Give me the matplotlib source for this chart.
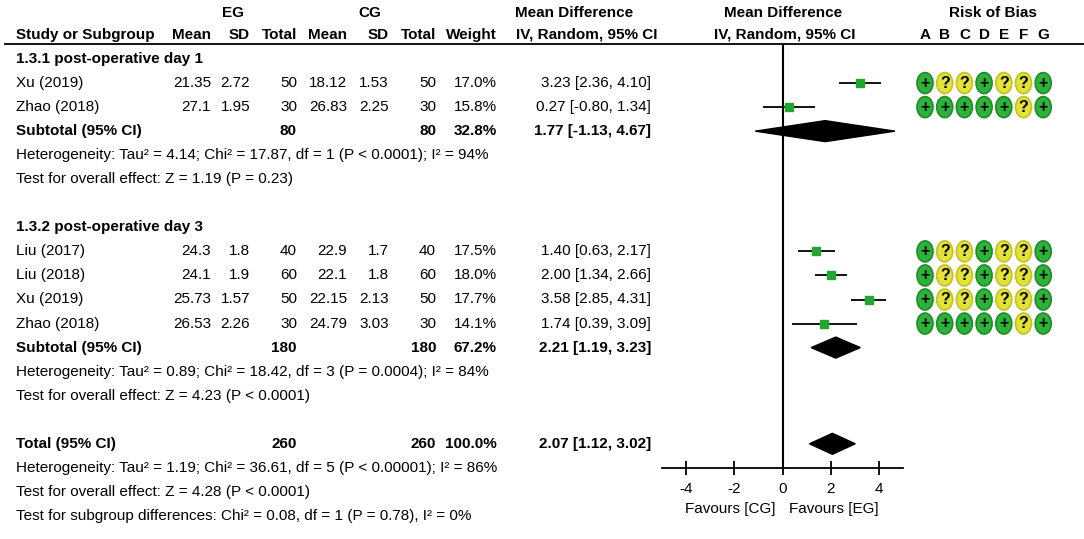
import matplotlib
matplotlib.use('Agg')
import matplotlib.pyplot as plt
from matplotlib.patches import Polygon, Ellipse

plt.rcParams['font.family'] = ['Liberation Sans', 'DejaVu Sans']
FS = 11

# DATA
studies = ["Xu (2019)", "Zhao (2018)", "Liu (2017)", "Liu (2018)", "Xu (2019)", "Zhao (2018)"]
study_rows = [1, 2, 8, 9, 10, 11]
eg_mean = [21.35, 27.1, 24.3, 24.1, 25.73, 26.53]
eg_sd = [2.72, 1.95, 1.8, 1.9, 1.57, 2.26]
eg_total = [50, 30, 40, 60, 50, 30]
cg_mean = [18.12, 26.83, 22.9, 22.1, 22.15, 24.79]
cg_sd = [1.53, 2.25, 1.7, 1.8, 2.13, 3.03]
cg_total = [50, 30, 40, 60, 50, 30]
weight = [17.0, 15.8, 17.5, 18.0, 17.7, 14.1]
md = [3.23, 0.27, 1.40, 2.00, 3.58, 1.74]
md_lo = [2.36, -0.80, 0.63, 1.34, 2.85, 0.39]
md_hi = [4.10, 1.34, 2.17, 2.66, 4.31, 3.09]
rob = ["+??+??+", "+++++?+", "+??+??+", "+??+??+", "+??+??+", "+++++?+"]

groups = ["1.3.1 post-operative day 1", "1.3.2 post-operative day 3"]
group_rows = [0, 7]

pooled_labels = ["Subtotal (95% CI)", "Subtotal (95% CI)", "Total (95% CI)"]
pooled_rows = [3, 12, 16]
pooled_eg = [80, 180, 260]
pooled_cg = [80, 180, 260]
pooled_weight = [32.8, 67.2, 100.0]
pooled_md = [1.77, 2.21, 2.07]
pooled_lo = [-1.13, 1.19, 1.12]
pooled_hi = [4.67, 3.23, 3.02]

notes = [
    "Heterogeneity: Tau\u00b2 = 4.14; Chi\u00b2 = 17.87, df = 1 (P < 0.0001); I\u00b2 = 94%",
    "Test for overall effect: Z = 1.19 (P = 0.23)",
    "Heterogeneity: Tau\u00b2 = 0.89; Chi\u00b2 = 18.42, df = 3 (P = 0.0004); I\u00b2 = 84%",
    "Test for overall effect: Z = 4.23 (P < 0.0001)",
    "Heterogeneity: Tau\u00b2 = 1.19; Chi\u00b2 = 36.61, df = 5 (P < 0.00001); I\u00b2 = 86%",
    "Test for overall effect: Z = 4.28 (P < 0.0001)",
    "Test for subgroup differences: Chi\u00b2 = 0.08, df = 1 (P = 0.78), I\u00b2 = 0%",
]
note_rows = [4, 5, 13, 14, 17, 18, 19]

xticks = [-4, -2, 0, 2, 4]
rob_letters = ["A", "B", "C", "D", "E", "F", "G"]

# LAYOUT (pixels)
W, H = 1084, 539
Y0, DY = 59.0, 24.05
LINE_Y = 44
AXIS_Y = 468


def row(p):
    return (p - Y0) / DY


fig = plt.figure(figsize=(W / 100, H / 100), dpi=100)
ax = fig.add_axes([0, 0, 1, 1])
ax.set_xlim(0, W)
ax.set_ylim(row(H), row(0))
ax.axis('off')

# column right edges
cols = [211, 250, 297, 347, 389, 436, 497, 651]

# HEADERS
hdr1 = row(13)
hdr2 = row(35)
bold = dict(fontsize=FS, fontweight='bold', va='center')
ax.text(233, hdr1, "EG", ha='center', **bold)
ax.text(370, hdr1, "CG", ha='center', **bold)
ax.text(574, hdr1, "Mean Difference", ha='center', **bold)
ax.text(783, hdr1, "Mean Difference", ha='center', **bold)
ax.text(993, hdr1, "Risk of Bias", ha='center', **bold)
ax.text(16, hdr2, "Study or Subgroup", ha='left', **bold)
for x, s in zip(cols, ["Mean", "SD", "Total", "Mean", "SD", "Total", "Weight"]):
    ax.text(x, hdr2, s, ha='right', **bold)
ax.text(516, hdr2, "IV, Random, 95% CI", ha='left', **bold)
ax.text(785, hdr2, "IV, Random, 95% CI", ha='center', **bold)
for i, s in enumerate(rob_letters):
    ax.text(925 + 19.7 * i, hdr2, s, ha='center', **bold)
ax.plot([5, W], [row(LINE_Y), row(LINE_Y)], color='black', lw=1.3)

# TABLE
norm = dict(fontsize=FS, va='center')
for g, r in zip(groups, group_rows):
    ax.text(16, r, g, ha='left', **bold)
for i, r in enumerate(study_rows):
    ax.text(16, r, studies[i], ha='left', **norm)
    vals = [str(eg_mean[i]), str(eg_sd[i]), str(eg_total[i]),
            str(cg_mean[i]), str(cg_sd[i]), str(cg_total[i]),
            f"{weight[i]:.1f}%",
            f"{md[i]:.2f} [{md_lo[i]:.2f}, {md_hi[i]:.2f}]"]
    for x, s in zip(cols, vals):
        ax.text(x, r, s, ha='right', **norm)
    for j, c in enumerate(rob[i]):
        xc = 925 + 19.7 * j
        if c == '+':
            fc, ec = '#2eb33a', '#1e8a28'
        else:
            fc, ec = '#e2e238', '#c2c224'
        ax.add_patch(Ellipse((xc, r), 16, 21 / DY, facecolor=fc, edgecolor=ec, lw=1.2))
        ax.text(xc, r, c, ha='center', va='center', fontsize=11.5, fontweight='bold')
for i, r in enumerate(pooled_rows):
    ax.text(16, r, pooled_labels[i], ha='left', **bold)
    ax.text(cols[2], r, str(pooled_eg[i]), ha='right', **bold)
    ax.text(cols[5], r, str(pooled_cg[i]), ha='right', **bold)
    ax.text(cols[6], r, f"{pooled_weight[i]:.1f}%", ha='right', **bold)
    ax.text(cols[7], r, f"{pooled_md[i]:.2f} [{pooled_lo[i]:.2f}, {pooled_hi[i]:.2f}]",
            ha='right', **bold)
for s, r in zip(notes, note_rows):
    ax.text(16, r, s, ha='left', **norm)

# FOREST PLOT
fax = fig.add_axes([662 / W, (H - AXIS_Y) / H, 241 / W, (AXIS_Y - LINE_Y) / H])
fax.set_xlim(-5, 5)
fax.set_ylim(row(AXIS_Y), row(LINE_Y))
fax.patch.set_alpha(0)
for sp in ['left', 'right', 'top']:
    fax.spines[sp].set_visible(False)
fax.spines['bottom'].set_linewidth(1.3)
fax.set_yticks([])
fax.set_xticks(xticks)
fax.set_xticklabels([str(t) for t in xticks])
fax.tick_params(axis='x', direction='inout', length=10, width=1.3, labelsize=FS, pad=5)
fax.axvline(0, color='black', lw=1.5)

fax.hlines(study_rows, md_lo, md_hi, color='black', lw=1.3)
for i, r in enumerate(study_rows):
    fax.plot(md[i], r, 's', ms=1.45 * weight[i] ** 0.5, color='#22a632', mec='#22a632')
for i, r in enumerate(pooled_rows):
    h = 10.5 / DY
    fax.add_patch(Polygon([(pooled_lo[i], r), (pooled_md[i], r - h),
                           (pooled_hi[i], r), (pooled_md[i], r + h)],
                          closed=True, facecolor='black', edgecolor='black'))

tr = fax.get_xaxis_transform()
fyy = (AXIS_Y - 509) / (AXIS_Y - LINE_Y)
fax.text(-0.28, fyy, "Favours [CG]", ha='right', va='center', fontsize=FS, transform=tr)
fax.text(0.26, fyy, "Favours [EG]", ha='left', va='center', fontsize=FS, transform=tr)

fig.savefig('out.png', dpi=100)
